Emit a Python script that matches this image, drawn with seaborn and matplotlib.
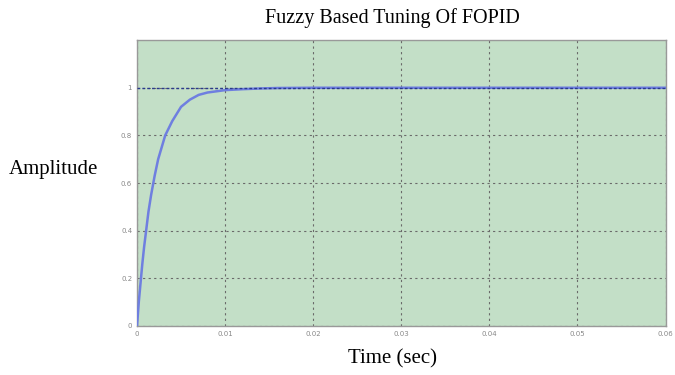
import numpy as np
import matplotlib
matplotlib.use('Agg')
import matplotlib.pyplot as plt
import seaborn as sns
import pandas as pd

# respuesta al escalon
tiempo = [0, 0.0002, 0.0004, 0.0006, 0.0008, 0.001, 0.0013, 0.0016, 0.002, 0.0024, 0.0028,
          0.0032, 0.0036, 0.004, 0.0045, 0.005, 0.0055, 0.006, 0.007, 0.008, 0.009, 0.010,
          0.012, 0.014, 0.016, 0.02, 0.03, 0.04, 0.05, 0.06]
amplitud = [0, 0.10, 0.18, 0.26, 0.33, 0.39, 0.48, 0.55, 0.63, 0.70, 0.75,
            0.80, 0.83, 0.86, 0.89, 0.92, 0.935, 0.95, 0.97, 0.98, 0.985, 0.99,
            0.994, 0.997, 0.999, 1.0, 1.0, 1.0, 1.0, 1.0]
x_ticks = [0, 0.01, 0.02, 0.03, 0.04, 0.05, 0.06]
x_labels = ['0', '0.01', '0.02', '0.03', '0.04', '0.05', '0.06']
y_ticks = [0, 0.2, 0.4, 0.6, 0.8, 1]
y_labels = ['0', '0.2', '0.4', '0.6', '0.8', '1']

df = pd.DataFrame({'t': tiempo, 'y': amplitud})

sns.set_style('white')
fig = plt.figure(figsize=(6.75, 3.75), dpi=100)
ax = fig.add_axes([0.203, 0.131, 0.783, 0.762])
ax.set_facecolor('#c3dfc7')

sns.lineplot(data=df, x='t', y='y', ax=ax, color='#6f7fe0', lw=1.8, zorder=3)
# linea de referencia en 1 (punteada azul oscuro)
ax.axhline(1.0, color='#2a3a8c', lw=1.0, ls=(0, (2, 1.5)), zorder=4)

ax.set_xlim(0, 0.06)
ax.set_ylim(0, 1.2)
ax.set_xticks(x_ticks)
ax.set_xticklabels(x_labels)
ax.set_yticks(y_ticks)
ax.set_yticklabels(y_labels)
ax.tick_params(labelsize=5, colors='#888888', length=3, direction='in')
ax.grid(True, color='#6a6a6a', ls=(0, (2, 3)), lw=0.8)
for s in ax.spines.values():
    s.set_color('#999999')
    s.set_linewidth(1)
ax.set_xlabel('')
ax.set_ylabel('')

fig.text(0.582, 0.952, 'Fuzzy Based Tuning Of FOPID', ha='center', va='center',
         family='Liberation Serif', fontsize=14.5, color='black')
fig.text(0.582, 0.043, 'Time (sec)', ha='center', va='center',
         family='Liberation Serif', fontsize=15, color='black')
fig.text(0.079, 0.547, 'Amplitude', ha='center', va='center',
         family='Liberation Serif', fontsize=15, color='black')

fig.savefig('out.png', dpi=100)
